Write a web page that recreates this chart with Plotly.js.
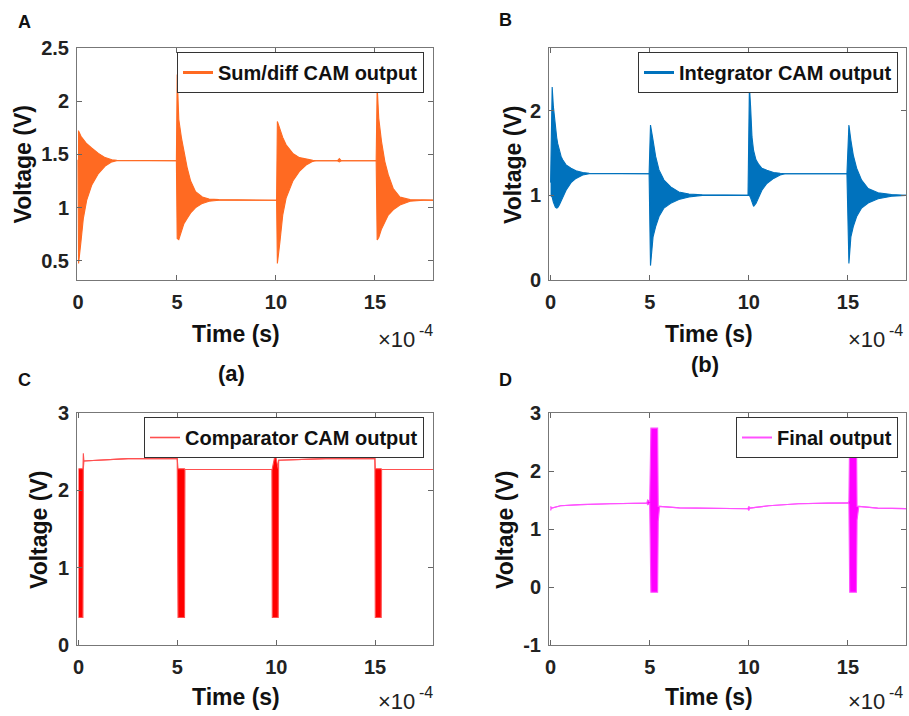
<!DOCTYPE html>
<html>
<head>
<meta charset="utf-8">
<script src="https://cdn.plot.ly/plotly-3.0.1.min.js"></script>
<style>html,body{margin:0;padding:0;background:#fff;}#chart{width:909px;height:716px;}</style>
</head>
<body>
<div id="chart"></div>
<script>
// Time in units of 1e-4 s (axis shows x10^-4). Upper / lower envelope of the dense oscillation.
// (A) Sum/diff CAM output
const tA = [0.00, 0.03, 0.15, 0.27, 0.44, 0.69, 1.03, 1.37, 1.71, 1.96, 4.97, 5.01, 5.09, 5.23, 5.35, 5.52, 5.69, 5.94, 6.28, 6.62, 7.12, 10.03, 10.07, 10.20, 10.34, 10.51, 10.85, 11.18, 11.52, 11.86, 12.03, 13.10, 13.20, 13.30, 15.06, 15.11, 15.19, 15.33, 15.50, 15.67, 15.92, 16.26, 16.77, 17.45, 18.00];
const upA = [1.72, 1.72, 1.67, 1.64, 1.60, 1.56, 1.51, 1.47, 1.45, 1.445, 1.44, 2.25, 1.83, 1.65, 1.53, 1.37, 1.25, 1.15, 1.10, 1.08, 1.075, 1.07, 1.81, 1.73, 1.66, 1.59, 1.51, 1.47, 1.455, 1.445, 1.44, 1.44, 1.46, 1.44, 1.44, 2.14, 1.84, 1.62, 1.43, 1.31, 1.18, 1.10, 1.075, 1.07, 1.07];
const loA = [1.45, 0.475, 0.68, 0.90, 1.07, 1.21, 1.32, 1.39, 1.43, 1.44, 1.44, 0.71, 0.70, 0.78, 0.85, 0.90, 0.95, 1.00, 1.04, 1.06, 1.07, 1.07, 0.475, 0.68, 0.93, 1.09, 1.25, 1.34, 1.40, 1.435, 1.44, 1.44, 1.43, 1.44, 1.44, 0.695, 0.72, 0.80, 0.87, 0.93, 0.98, 1.025, 1.06, 1.07, 1.07];

// (B) Integrator CAM output
const tB = [0.00, 0.08, 0.14, 0.19, 0.24, 0.31, 0.36, 0.44, 0.53, 0.61, 0.78, 1.03, 1.28, 1.62, 1.95, 4.97, 5.04, 5.17, 5.30, 5.47, 5.72, 6.06, 6.47, 6.98, 7.65, 9.96, 10.03, 10.09, 10.16, 10.24, 10.36, 10.49, 10.66, 10.91, 11.25, 11.58, 11.83, 14.95, 15.05, 15.15, 15.27, 15.44, 15.69, 16.02, 16.52, 17.20, 17.86, 18.00];
const upB = [1.15, 2.28, 2.05, 1.92, 1.81, 1.68, 1.61, 1.53, 1.46, 1.42, 1.36, 1.32, 1.29, 1.27, 1.26, 1.255, 1.83, 1.65, 1.46, 1.30, 1.18, 1.10, 1.04, 1.015, 1.005, 1.00, 2.29, 2.05, 1.69, 1.53, 1.42, 1.37, 1.32, 1.295, 1.27, 1.26, 1.255, 1.255, 1.83, 1.65, 1.475, 1.32, 1.18, 1.08, 1.03, 1.01, 1.00, 1.00];
const loB = [1.00, 0.98, 0.92, 0.885, 0.86, 0.85, 0.855, 0.885, 0.93, 0.98, 1.06, 1.15, 1.20, 1.24, 1.255, 1.255, 0.17, 0.51, 0.63, 0.75, 0.85, 0.905, 0.95, 0.98, 1.00, 1.00, 1.00, 0.97, 0.92, 0.87, 0.905, 0.98, 1.06, 1.14, 1.20, 1.24, 1.255, 1.255, 0.195, 0.51, 0.63, 0.75, 0.85, 0.91, 0.96, 0.99, 1.00, 1.00];

// (C) Comparator CAM output
const tC = [0.00, 0.22, 0.24, 0.27, 2.50, 4.99, 5.03, 5.36, 5.38, 9.78, 9.80, 9.95, 10.10, 10.12, 12.50, 14.99, 15.01, 15.31, 15.33, 18.00];
const upC = [2.28, 2.28, 2.48, 2.38, 2.41, 2.41, 2.28, 2.28, 2.27, 2.27, 2.28, 2.47, 2.28, 2.39, 2.41, 2.41, 2.28, 2.28, 2.27, 2.27];
const loC = [0.355, 0.355, 2.28, 2.38, 2.41, 2.41, 0.355, 0.355, 2.27, 2.27, 0.355, 0.355, 0.355, 2.39, 2.41, 2.41, 0.355, 0.355, 2.27, 2.27];

// (D) Final output
const tD = [0.00, 0.05, 0.50, 1.50, 3.00, 4.85, 4.90, 5.00, 5.06, 5.40, 5.43, 5.50, 6.50, 8.00, 9.95, 10.00, 10.05, 11.00, 12.50, 14.00, 15.00, 15.05, 15.09, 15.43, 15.46, 15.55, 16.50, 18.00];
const upD = [1.39, 1.36, 1.40, 1.42, 1.435, 1.446, 1.50, 1.47, 2.74, 2.74, 1.39, 1.39, 1.365, 1.355, 1.35, 1.39, 1.36, 1.40, 1.435, 1.446, 1.45, 1.48, 2.74, 2.74, 1.39, 1.39, 1.36, 1.35];
const loD = [1.32, 1.36, 1.40, 1.42, 1.435, 1.446, 1.42, 1.44, -0.09, -0.09, 1.13, 1.39, 1.365, 1.355, 1.35, 1.32, 1.36, 1.40, 1.435, 1.446, 1.45, 1.43, -0.09, -0.09, 1.15, 1.39, 1.36, 1.35];

const names = ['Sum/diff CAM output', 'Integrator CAM output', 'Comparator CAM output', 'Final output'];
const colors = ['#FF6A22', '#0072BD', '#FF0000', '#FF00FF'];
const lineColors = ['#FF6A22', '#0072BD', '#FF5050', '#FF50FF'];
const xTicks = [0, 5, 10, 15];
const xTickText = ['0', '5', '10', '15'];
const yTicksA = [0.5, 1, 1.5, 2, 2.5];
const yTickTextA = ['0.5', '1', '1.5', '2', '2.5'];
const yTicksB = [0, 1, 2];
const yTickTextB = ['0', '1', '2'];
const yTicksC = [0, 1, 2, 3];
const yTickTextC = ['0', '1', '2', '3'];
const yTicksD = [-1, 0, 1, 2, 3];
const yTickTextD = ['-1', '0', '1', '2', '3'];
const panelLetters = ['A', 'B', 'C', 'D'];
const subLabels = ['(a)', '(b)'];
const yTitle = 'Voltage (V)';
const xTitle = 'Time (s)';
const expBase = '×10';
const expPower = '-4';

const W = 909, H = 716;
const px = v => v / W;
const py = v => 1 - v / H;
const FONT = 'Liberation Sans, Arial, sans-serif';

const series = [[tA, upA, loA], [tB, upB, loB], [tC, upC, loC], [tD, upD, loD]];
const legendWidths = [3, 3, 1.6, 2];
const traces = [];
series.forEach((s, i) => {
  const xa = i === 0 ? 'x' : 'x' + (i + 1);
  const ya = i === 0 ? 'y' : 'y' + (i + 1);
  traces.push({x: s[0], y: s[2], xaxis: xa, yaxis: ya, mode: 'lines', line: {color: lineColors[i], width: 1.1}, showlegend: false, hoverinfo: 'skip'});
  traces.push({x: s[0], y: s[1], xaxis: xa, yaxis: ya, mode: 'lines', line: {color: lineColors[i], width: 1.1}, fill: 'tonexty', fillcolor: colors[i], showlegend: false, hoverinfo: 'skip'});
  traces.push({x: [null], y: [null], xaxis: xa, yaxis: ya, mode: 'lines', name: names[i], line: {color: lineColors[i], width: legendWidths[i]}, showlegend: true, legend: i === 0 ? 'legend' : 'legend' + (i + 1)});
});

const tickFont = {family: FONT, size: 20, weight: 'bold', color: '#222'};
function xax(dom, rng) {
  return {domain: dom, range: rng, tickvals: xTicks, ticktext: xTickText, ticks: 'inside', ticklen: 5, tickcolor: '#666', showline: true, linecolor: '#777', linewidth: 1, mirror: 'ticks', showgrid: false, zeroline: false, tickfont: tickFont, ticklabelstandoff: 4};
}
function yax(dom, rng, tv, tt, anchor) {
  return {domain: dom, range: rng, tickvals: tv, ticktext: tt, ticks: 'inside', ticklen: 5, tickcolor: '#666', showline: true, linecolor: '#777', linewidth: 1, mirror: 'ticks', showgrid: false, zeroline: false, tickfont: tickFont, anchor: anchor, ticklabelstandoff: 3};
}

const dAx = [px(77), px(433)], dBx = [px(549), px(906)];
const dTop = [py(280), py(48)], dBot = [py(645), py(413)];

function leg(xr, yt) {
  return {x: px(xr), y: py(yt), xanchor: 'right', yanchor: 'top', bgcolor: '#fff', bordercolor: '#333', borderwidth: 1, font: {family: FONT, size: 20, weight: 'bold', color: '#111'}, itemwidth: 30, tracegroupgap: 0};
}

const ann = [];
function txt(text, x, y, size, extra) {
  ann.push(Object.assign({text: text, x: px(x), y: py(y), xref: 'paper', yref: 'paper', showarrow: false, xanchor: 'center', yanchor: 'middle', font: {family: FONT, size: size, weight: 'bold', color: '#111'}}, extra || {}));
}
txt(panelLetters[0], 24.5, 21.5, 18);
txt(panelLetters[1], 505.5, 20, 18);
txt(panelLetters[2], 24, 380, 18);
txt(panelLetters[3], 505.5, 380, 18);
txt(subLabels[0], 231, 373, 22);
txt(subLabels[1], 705, 364, 22);
txt(yTitle, 22.5, 165, 23, {textangle: -90});
txt(yTitle, 513, 165, 23, {textangle: -90});
txt(yTitle, 39, 530, 23, {textangle: -90});
txt(yTitle, 505, 530, 23, {textangle: -90});
txt(xTitle, 236, 334, 23);
txt(xTitle, 709, 334, 23);
txt(xTitle, 236, 697, 23);
txt(xTitle, 709, 697, 23);
const baseFont = {family: FONT, size: 22, weight: 'normal', color: '#222'};
const powFont = {family: FONT, size: 16, weight: 'normal', color: '#222'};
[[417, 339], [887, 339], [417, 701], [887, 701]].forEach(function (p) {
  txt(expBase, p[0], p[1], 22, {xanchor: 'right', font: baseFont});
  txt(expPower, p[0], p[1] - 9, 16, {xanchor: 'left', font: powFont});
});

const layout = {
  width: W, height: H,
  margin: {l: 0, r: 0, t: 0, b: 0},
  paper_bgcolor: '#fff', plot_bgcolor: '#fff',
  xaxis: Object.assign(xax(dAx, [-0.05, 17.93]), {anchor: 'y'}),
  yaxis: yax(dTop, [0.32, 2.5], yTicksA, yTickTextA, 'x'),
  xaxis2: Object.assign(xax(dBx, [-0.08, 17.93]), {anchor: 'y2'}),
  yaxis2: yax(dTop, [0, 2.74], yTicksB, yTickTextB, 'x2'),
  xaxis3: Object.assign(xax(dAx, [-0.08, 17.93]), {anchor: 'y3'}),
  yaxis3: yax(dBot, [0, 3], yTicksC, yTickTextC, 'x3'),
  xaxis4: Object.assign(xax(dBx, [-0.08, 17.93]), {anchor: 'y4'}),
  yaxis4: yax(dBot, [-1, 3], yTicksD, yTickTextD, 'x4'),
  legend: leg(424, 52),
  legend2: leg(898, 52),
  legend3: leg(424, 417),
  legend4: leg(898, 417),
  annotations: ann,
  showlegend: true
};

Plotly.newPlot('chart', traces, layout, {staticPlot: true, displayModeBar: false});
</script>
</body>
</html>
